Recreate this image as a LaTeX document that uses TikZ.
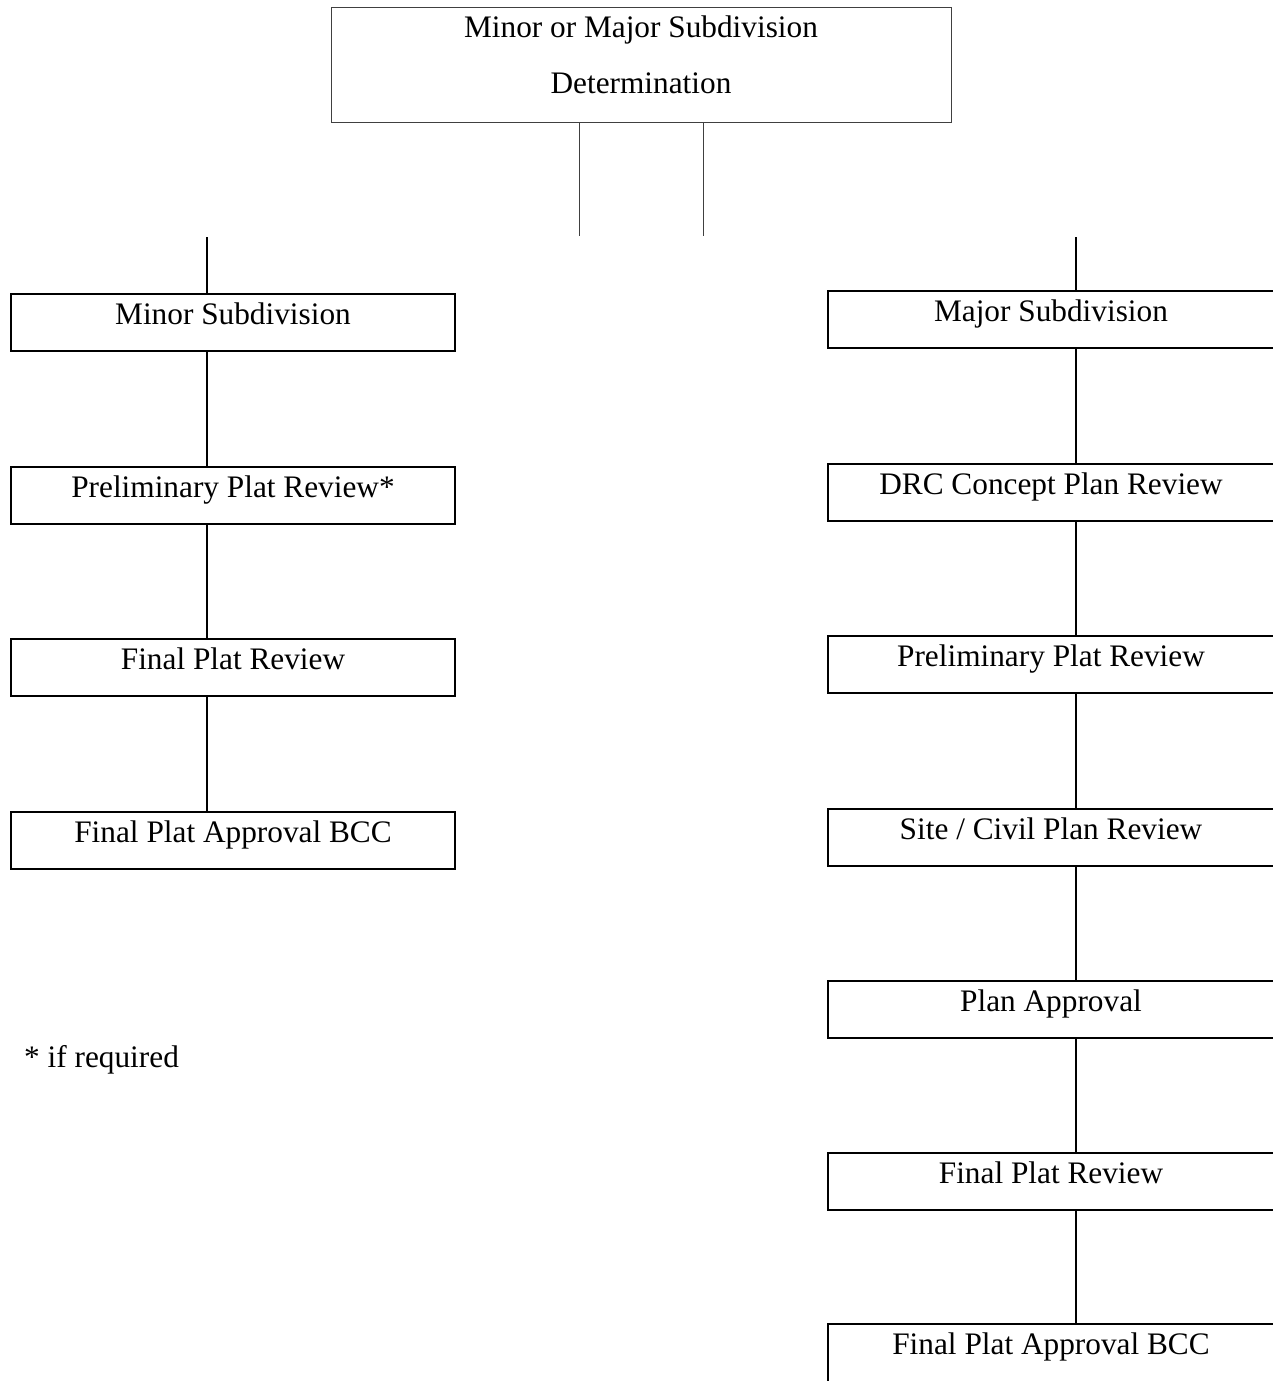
\documentclass[tikz,border=0pt]{standalone}
\usepackage{fontspec}
\setmainfont{Liberation Serif}
\usetikzlibrary{positioning}

\begin{document}
\begin{tikzpicture}[x=1pt,y=-1pt,
  font=\fontsize{31.3}{56}\selectfont,
  box/.style={draw, line width=1.8pt, inner sep=0pt, minimum width=444pt,
    text height=30.5pt, text depth=26.5pt, anchor=north},
  rbox/.style={box, minimum width=446pt},
  link/.style={line width=1.8pt}]
  \def\lx{207};
  \def\rx{1076};

  \useasboundingbox (0,0) rectangle (1273,1381);
  \clip (0,0) rectangle (1273,1381);

  % top box
  \node(det) at (641,7) [draw=black!75, line width=0.9pt, inner sep=0pt, anchor=north,
    minimum width=620pt, text height=86pt, text depth=29pt, align=center]
    {Minor or Major Subdivision\\Determination};
  \coordinate (stubA) at (579,236);
  \coordinate (stubB) at (703,236);
  \draw[draw=black!75, line width=0.9pt] (det.south -| stubA) -- (stubA);
  \draw[draw=black!75, line width=0.9pt] (det.south -| stubB) -- (stubB);

  % left column
  \node(minor)   at (233,293) [box]{Minor Subdivision};
  \node(prelimL) at (233,466) [box]{Preliminary Plat Review*};
  \node(finalL)  at (233,638) [box]{Final Plat Review};
  \node(approvL) at (233,811) [box]{Final Plat Approval BCC};
  \node(note) at (24,1067) [anchor=base west, inner sep=0pt]{* if required};

  % right column
  \node(major)   at (1051,290)  [rbox]{Major Subdivision};
  \node(drc)     at (1051,463)  [rbox]{DRC Concept Plan Review};
  \node(prelimR) at (1051,635)  [rbox]{Preliminary Plat Review};
  \node(site)    at (1051,808)  [rbox]{Site / Civil Plan Review};
  \node(plan)    at (1051,980)  [rbox]{Plan Approval};
  \node(finalR)  at (1051,1152) [rbox]{Final Plat Review};
  \node(approvR) at (1051,1323) [rbox, text depth=40pt]{Final Plat Approval BCC}; % 下端は図の外

  \coordinate (topL) at (\lx,237);
  \coordinate (topR) at (\rx,237);
  \draw[link] (topL) -- (topL |- minor.north);
  \draw[link] (topR) -- (topR |- major.north);
  \foreach \a/\b in {minor/prelimL, prelimL/finalL, finalL/approvL} { % 左の縦線
    \draw[link] (\a.south -| topL) -- (\b.north -| topL);
  }
  \foreach \a/\b in {major/drc, drc/prelimR, prelimR/site, site/plan, plan/finalR, finalR/approvR} { % 右の縦線
    \draw[link] (\a.south -| topR) -- (\b.north -| topR);
  }
\end{tikzpicture}
\end{document}
